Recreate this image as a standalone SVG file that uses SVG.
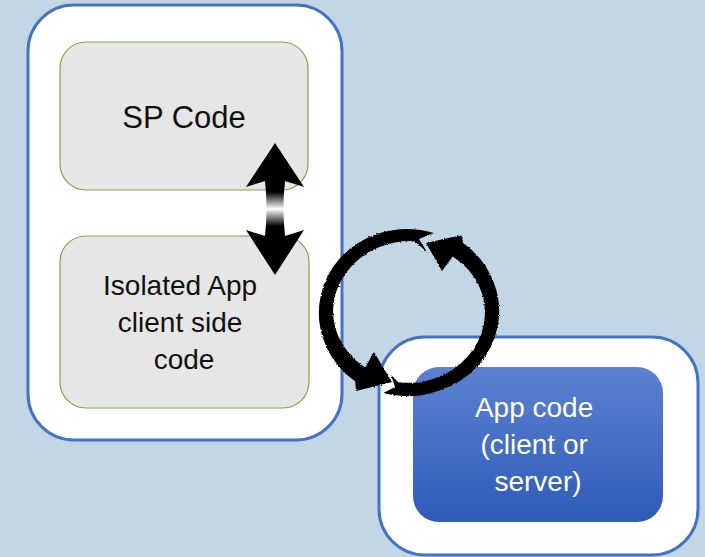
<svg xmlns="http://www.w3.org/2000/svg" width="705" height="557" viewBox="0 0 705 557">
  <style>
    .outer { fill: #ffffff; stroke: #4472c4; stroke-width: 3; }
    .inner { fill: #e6e6e6; stroke: #70ad47; stroke-width: 1.2; }
    .label { font-family: "Liberation Sans", Arial, sans-serif; text-anchor: middle; }
    .dark { fill: #111111; }
    .light { fill: #ffffff; }
    .curl { fill: #000000; filter: url(#rough); }
  </style>
  <defs>
    <linearGradient id="appFill" x1="0" y1="0" x2="0" y2="1">
      <stop offset="0" stop-color="#5c81d0"/>
      <stop offset="1" stop-color="#2e5bb8"/>
    </linearGradient>
    <linearGradient id="shaftFade" gradientUnits="userSpaceOnUse" x1="0" y1="143" x2="0" y2="275">
      <stop offset="0" stop-color="#000"/>
      <stop offset="0.37" stop-color="#000"/>
      <stop offset="0.5" stop-color="#fff"/>
      <stop offset="0.63" stop-color="#000"/>
      <stop offset="1" stop-color="#000"/>
    </linearGradient>
    <filter id="rough" x="-5%" y="-5%" width="110%" height="110%">
      <feTurbulence type="fractalNoise" baseFrequency="0.9" numOctaves="2" seed="3" result="n"/>
      <feDisplacementMap in="SourceGraphic" in2="n" scale="2.5" xChannelSelector="R" yChannelSelector="G"/>
    </filter>
  </defs>

  <!-- backdrop -->
  <rect x="0" y="0" width="705" height="557" fill="#c2d6e6"/>

  <!-- SharePoint host container -->
  <g id="host">
    <rect class="outer" x="28" y="5" width="314" height="435" rx="46" ry="46"/>
  </g>

  <g id="sp-code">
    <rect class="inner" x="60" y="42" width="248" height="148" rx="26" ry="26"/>
    <text class="label dark" x="184" y="128" font-size="31">SP Code</text>
  </g>

  <g id="isolated-app">
    <rect class="inner" x="60" y="236" width="249" height="172" rx="26" ry="26"/>
    <text class="label dark" font-size="28">
      <tspan x="184" y="295">Isolated App</tspan>
      <tspan x="184" y="332">client side</tspan>
      <tspan x="184" y="369">code</tspan>
    </text>
  </g>

  <!-- remote app container -->
  <g id="remote">
    <rect class="outer" x="379" y="337" width="319" height="218" rx="46" ry="46"/>
  </g>

  <g id="app-code">
    <rect x="413" y="367" width="250" height="155" rx="26" ry="26" fill="url(#appFill)"/>
    <text class="label light" font-size="28">
      <tspan x="538" y="417">App code</tspan>
      <tspan x="538" y="454">(client or</tspan>
      <tspan x="538" y="491">server)</tspan>
    </text>
  </g>

  <!-- connectors -->
  <g id="connectors">
    <!-- two-way link between SP code and isolated app code -->
    <path fill="url(#shaftFade)" d="M275,143 L304,187 L285,181 Q282,209 285,236 L304,230 L275,275 L246,230 L265,236 Q268,209 265,181 L246,187 Z"/>
    <!-- round-trip loop: left arc heading down to the app -->
    <path class="curl" d="M434,233 A89 83 0 0 0 378.4,233.5 A90 84 0 0 0 340.1,258 A90 84 0 0 0 320.4,297.4 A90.5 84.5 0 0 0 324,340.9 A91 85 0 0 0 355.2,381.2 L356,391 L392,382 L374,352 L365.2,367.4 A75 69 0 0 1 338.1,335.8 A76 70 0 0 1 334.2,299.8 A76 70 0 0 1 350.8,267 A76.5 70.5 0 0 1 382.8,245.8 A77 71 0 0 1 414.4,241.2 L427,252 L419,239 Z"/>
    <!-- right arc heading back up -->
    <path class="curl" d="M383,393 A89 83 0 0 0 439.6,390.5 A89.5 83.5 0 0 0 477.9,366 A90 84 0 0 0 497.6,326.6 A90 84 0 0 0 494,283.1 A91 85 0 0 0 462.8,242.8 L462,235 L426,243 L442,271 L452.8,256.6 A75 69 0 0 1 480,288.2 A75.5 69.5 0 0 1 483.8,324.2 A76 70 0 0 1 467.2,357 A76 70 0 0 1 435.2,378.2 A76.5 70.5 0 0 1 398.3,382.3 L391,375 L395,387 Z"/>
  </g>
</svg>
